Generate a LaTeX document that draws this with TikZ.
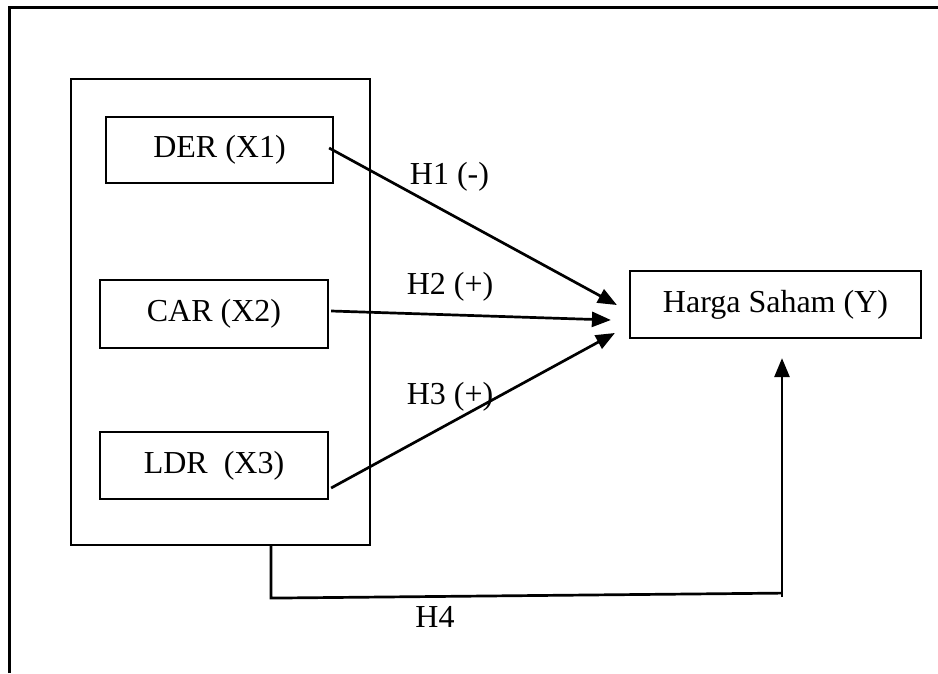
\documentclass[tikz,border=0pt]{standalone}
\usepackage{fontspec}
\setmainfont{Liberation Serif}
\usetikzlibrary{arrows.meta,calc}
\tikzset{
  box/.style={draw, line width=2.2pt, inner sep=0pt, font=\fontsize{32}{38}\selectfont},
  lbl/.style={inner sep=0pt, font=\fontsize{32}{38}\selectfont},
  link/.style={line width=2.7pt, -{Triangle[length=19pt,width=15pt]}},
  frame/.style={line width=3pt}
}
\begin{document}
\begin{tikzpicture}[x=1pt,y=-1pt]
  \useasboundingbox (0,0) rectangle (938,673);
  % open frame: left and top edges only
  \draw[frame] (9,673) -- (9,7) -- (938,7);

  % group of independent variables
  \node[box, minimum width=299pt, minimum height=466pt] (grp) at (220.5,312) {};
  \node[box, minimum width=227pt, minimum height=66pt] (der) at (219.5,150) {DER (X1)};
  \node[box, minimum width=228pt, minimum height=68pt] (car) at (214,314) {CAR (X2)};
  \node[box, minimum width=228pt, minimum height=67pt] (ldr) at (214,465.5) {LDR~~(X3)};

  % dependent variable
  \node[box, minimum width=291pt, minimum height=67pt] (y) at (775.5,304.5) {Harga Saham (Y)};

  % arrow end points in front of the dependent box
  \coordinate (t1) at ($(y.west)+(-12,0.5)$);
  \coordinate (t2) at ($(y.west)+(-18,15.5)$);
  \coordinate (t3) at ($(y.west)+(-14,28.5)$);
  \coordinate (t4) at ($(y.south)+(6.5,19)$);

  \draw[link] ($(der.east)+(-5,-2)$) -- (t1);
  \draw[link] ($(car.east)+(2,-3)$) -- (t2);
  \draw[link] ($(ldr.east)+(2,22.5)$) -- (t3);

  % H4 path from the group box to the dependent box
  \coordinate (g4) at ($(grp.south)+(50.5,0)$);
  \coordinate (c1) at ($(g4)+(0,52)$);
  \coordinate (c2) at ($(t4)+(0,235)$);
  \coordinate (c3) at ($(t4)+(0,239)$);
  \draw[line width=2.7pt] (g4) -- (c1) -- (c2);
  \draw[link] (c3) -- (t4);

  % hypothesis labels
  \node[lbl] (h1) at (449.5,177) {H1 (-)};
  \node[lbl] (h2) at (450,287) {H2 (+)};
  \node[lbl] (h3) at (450,397) {H3 (+)};
  \node[lbl] (h4) at (435,617) {H4};
\end{tikzpicture}
\end{document}
